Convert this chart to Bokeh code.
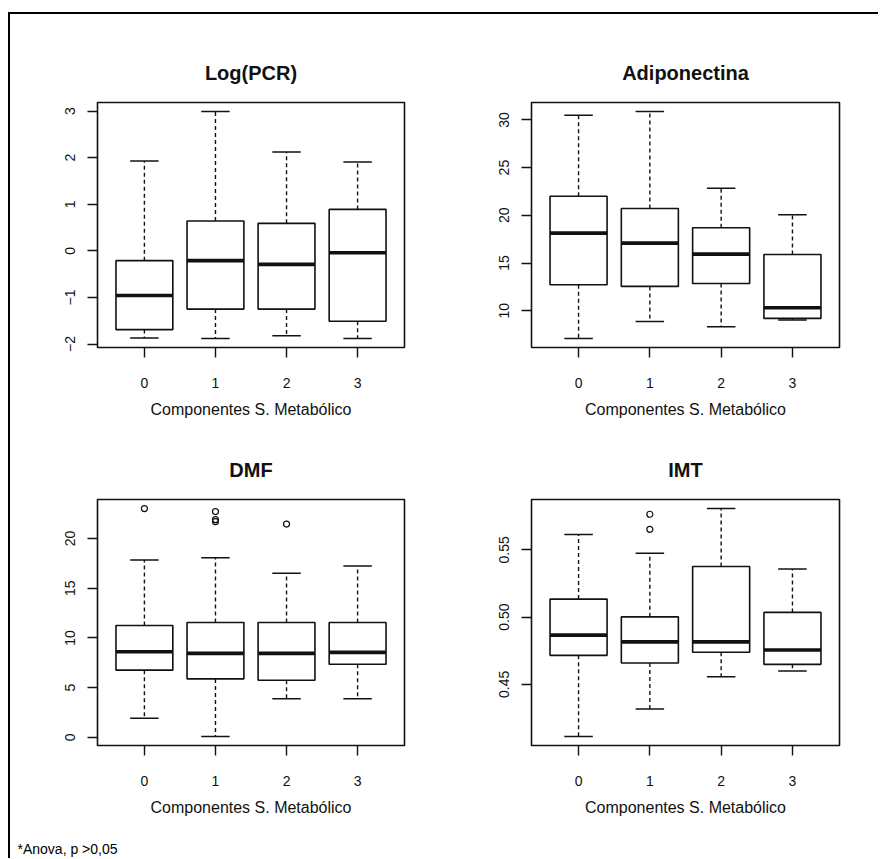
from bokeh.plotting import figure
from bokeh.layouts import row, column, Spacer
from bokeh.models import FixedTicker, Range1d, Label, NumeralTickFormatter
from bokeh.embed import file_html
from bokeh.resources import INLINE

# ---------------- data ----------------
groups = ["0", "1", "2", "3"]
x_title = "Componentes S. Metabólico"
footnote = "*Anova, p >0,05"

pcr_lower = [-1.87, -1.88, -1.82, -1.88]
pcr_q1 = [-1.69, -1.25, -1.25, -1.51]
pcr_med = [-0.96, -0.21, -0.29, -0.04]
pcr_q3 = [-0.21, 0.64, 0.59, 0.89]
pcr_upper = [1.93, 2.99, 2.12, 1.91]
pcr_out_g = []
pcr_out_v = []
pcr_ticks = [-2, -1, 0, 1, 2, 3]

adi_lower = [7.10, 8.88, 8.32, 9.02]
adi_q1 = [12.72, 12.55, 12.86, 9.20]
adi_med = [18.13, 17.09, 15.93, 10.31]
adi_q3 = [22.00, 20.72, 18.69, 15.90]
adi_upper = [30.49, 30.87, 22.84, 20.05]
adi_out_g = []
adi_out_v = []
adi_ticks = [10, 15, 20, 25, 30]

dmf_lower = [1.93, 0.10, 3.89, 3.89]
dmf_q1 = [6.76, 5.88, 5.74, 7.36]
dmf_med = [8.61, 8.45, 8.45, 8.55]
dmf_q3 = [11.25, 11.55, 11.55, 11.55]
dmf_upper = [17.84, 18.07, 16.49, 17.23]
dmf_out_g = ["0", "1", "1", "1", "2"]
dmf_out_v = [23.0, 22.7, 21.9, 21.7, 21.45]
dmf_ticks = [0, 5, 10, 15, 20]

imt_lower = [0.4114, 0.4318, 0.4557, 0.4600]
imt_q1 = [0.4716, 0.4659, 0.4739, 0.4649]
imt_med = [0.4866, 0.4816, 0.4816, 0.4756]
imt_q3 = [0.5134, 0.5002, 0.5376, 0.5035]
imt_upper = [0.5614, 0.5475, 0.5806, 0.5358]
imt_out_g = ["1", "1"]
imt_out_v = [0.5764, 0.5652]
imt_ticks = [0.45, 0.50, 0.55]

FONT = "Liberation Sans"
INK = "#111111"


def make_panel(title, lower, q1, med, q3, upper, out_g, out_v, ticks,
               width, height, mb, fmt=None):
    n = len(groups)
    xs = [i + 1 for i in range(n)]
    xlo, xhi = 0.5 - 0.04 * n, n + 0.5 + 0.04 * n
    lo = min(lower + out_v)
    hi = max(upper + out_v)
    pad = 0.04 * (hi - lo)
    p = figure(width=width, height=height,
               x_range=Range1d(xlo, xhi), y_range=Range1d(lo - pad, hi + pad),
               output_backend="svg", toolbar_location=None,
               min_border_left=mb[0], min_border_right=mb[1],
               min_border_top=mb[2], min_border_bottom=mb[3])
    p.title.text = title
    p.title.align = "center"
    p.title.text_font = FONT
    p.title.text_font_size = "20px"
    p.title.text_font_style = "bold"
    p.title.text_color = INK
    p.title.standoff = 37

    p.xgrid.grid_line_color = None
    p.ygrid.grid_line_color = None
    p.outline_line_color = INK
    p.outline_line_width = 1.6
    p.background_fill_color = "white"
    p.border_fill_color = "white"

    for ax in (p.xaxis[0], p.yaxis[0]):
        ax.axis_line_color = None
        ax.major_tick_out = 10
        ax.major_tick_in = 0
        ax.major_tick_line_color = INK
        ax.major_tick_line_width = 1.4
        ax.minor_tick_line_color = None
        ax.major_label_text_font = FONT
        ax.major_label_text_font_size = "14px"
        ax.major_label_text_color = INK

    p.xaxis.ticker = FixedTicker(ticks=xs)
    p.xaxis.major_label_overrides = {x: g for x, g in zip(xs, groups)}
    p.xaxis.major_label_standoff = 20
    p.xaxis.axis_label = x_title
    p.xaxis.axis_label_text_font = FONT
    p.xaxis.axis_label_text_font_size = "16px"
    p.xaxis.axis_label_text_font_style = "normal"
    p.xaxis.axis_label_text_color = INK
    p.xaxis.axis_label_standoff = 10

    p.yaxis.ticker = FixedTicker(ticks=ticks)
    p.yaxis.major_label_orientation = "vertical"
    p.yaxis.major_label_standoff = 12
    if fmt is not None:
        p.yaxis.formatter = NumeralTickFormatter(format=fmt)

    # whiskers (dashed)
    p.segment(x0=xs, y0=q3, x1=xs, y1=upper, line_color=INK, line_width=1.4,
              line_dash="4 3")
    p.segment(x0=xs, y0=q1, x1=xs, y1=lower, line_color=INK, line_width=1.4,
              line_dash="4 3")
    # staples
    p.segment(x0=[x - 0.2 for x in xs], y0=upper, x1=[x + 0.2 for x in xs],
              y1=upper, line_color=INK, line_width=1.5)
    p.segment(x0=[x - 0.2 for x in xs], y0=lower, x1=[x + 0.2 for x in xs],
              y1=lower, line_color=INK, line_width=1.5)
    # boxes
    p.quad(left=[x - 0.4 for x in xs], right=[x + 0.4 for x in xs],
           bottom=q1, top=q3, fill_color="white", line_color=INK,
           line_width=1.6)
    # medians
    p.segment(x0=[x - 0.4 for x in xs], y0=med, x1=[x + 0.4 for x in xs],
              y1=med, line_color=INK, line_width=3.6)
    # outliers
    if out_v:
        ox = [groups.index(g) + 1 for g in out_g]
        p.scatter(x=ox, y=out_v, marker="circle", size=6, fill_color=None,
                  line_color=INK, line_width=1.2)
    return p


p1 = make_panel("Log(PCR)", pcr_lower, pcr_q1, pcr_med, pcr_q3, pcr_upper,
                pcr_out_g, pcr_out_v, pcr_ticks, 430, 422, (87, 36, 88, 89))
p2 = make_panel("Adiponectina", adi_lower, adi_q1, adi_med, adi_q3, adi_upper,
                adi_out_g, adi_out_v, adi_ticks, 438, 422, (91, 39, 88, 89))
p3 = make_panel("DMF", dmf_lower, dmf_q1, dmf_med, dmf_q3, dmf_upper,
                dmf_out_g, dmf_out_v, dmf_ticks, 430, 387, (87, 36, 63, 78))
p4 = make_panel("IMT", imt_lower, imt_q1, imt_med, imt_q3, imt_upper,
                imt_out_g, imt_out_v, imt_ticks, 438, 387, (91, 39, 63, 78),
                fmt="0.00")

# footnote strip (a pixel-unit canvas holding only the note text)
note_w, note_h = 430, 35
note = figure(width=note_w, height=note_h, x_range=Range1d(0, note_w),
              y_range=Range1d(0, note_h), output_backend="svg",
              toolbar_location=None, x_axis_location=None,
              y_axis_location=None, min_border=0)
note.outline_line_color = None
note.xgrid.grid_line_color = None
note.ygrid.grid_line_color = None
note.add_layout(Label(x=7, y=10, text=footnote, text_font=FONT,
                      text_font_size="14px", text_color="black",
                      text_baseline="middle", text_align="left"))

grid = column(row(p1, p2), row(p3, p4), note)
left_line = Spacer(width=2, height=844, styles={"background-color": "black"})
top_line = Spacer(width=870, height=2, styles={"background-color": "black"})
inner = column(top_line, row(left_line, grid))
layout = column(Spacer(width=10, height=12), row(Spacer(width=8, height=10), inner))

open("out.html", "w").write(file_html(layout, INLINE))
